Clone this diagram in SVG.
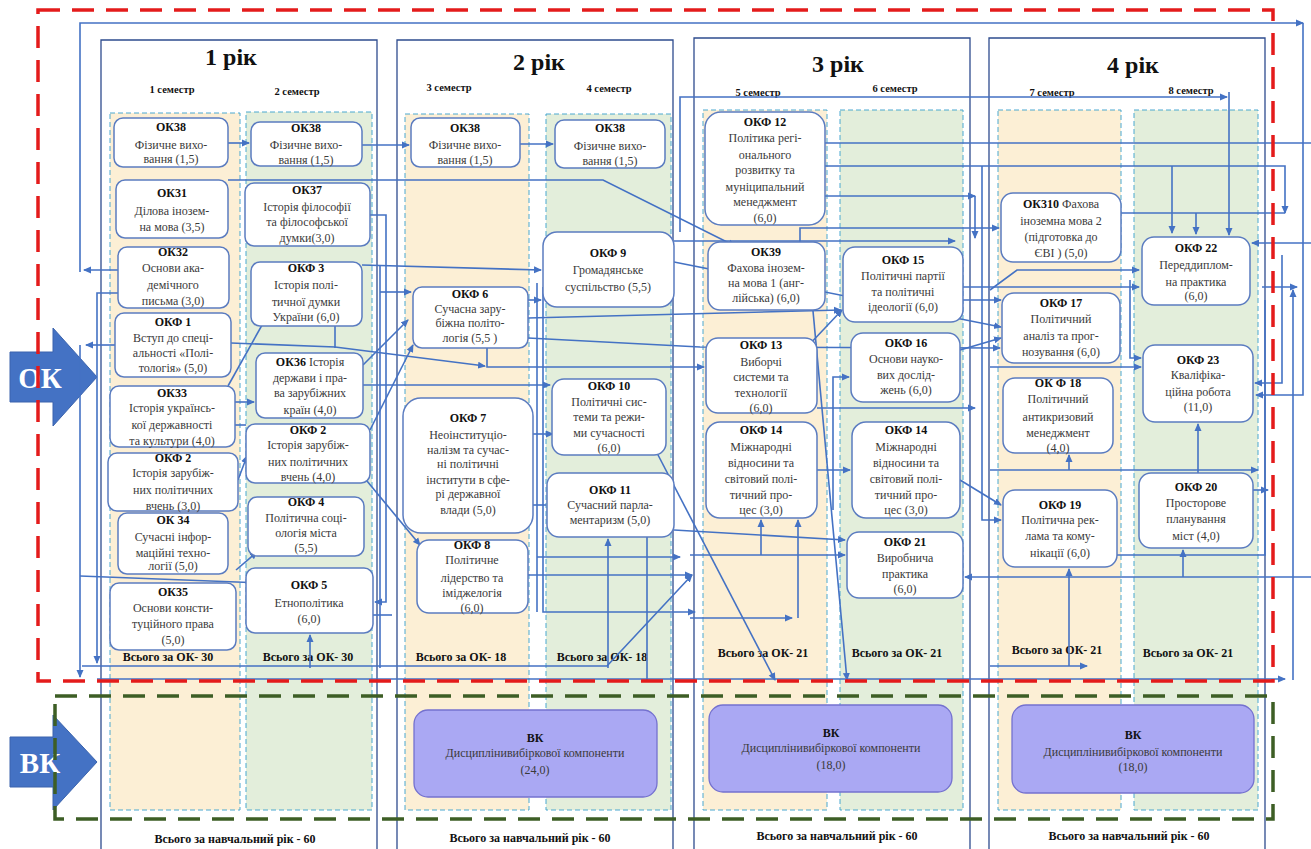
<svg xmlns="http://www.w3.org/2000/svg" width="1311" height="849" viewBox="0 0 1311 849">
<defs>
<marker id="a" markerUnits="userSpaceOnUse" markerWidth="8" markerHeight="8" refX="7" refY="4" orient="auto"><path d="M0,0.5L8,4L0,7.5z" fill="#4472c4"/></marker>
<style>
.yr{fill:none;stroke:#2e4c8e;stroke-width:1.3}
.s1{fill:#fcefd5;stroke:#4aa8d0;stroke-width:1;stroke-dasharray:5 3}
.s2{fill:#e3eedb;stroke:#4aa8d0;stroke-width:1;stroke-dasharray:5 3}
.nd rect{fill:#fff;stroke:#5b7cc0;stroke-width:1.5}
.nd text{font-family:"Liberation Serif","Times New Roman",serif;font-size:12px;fill:#3a3a3a;text-anchor:middle}
.b{font-weight:bold;fill:#111}
.vk rect{fill:#aaa8f3;stroke:#7471cf;stroke-width:1.3}
.cn path{fill:none;stroke:#4472c4;stroke-width:1.6;marker-end:url(#a)}
.cn path.na{marker-end:none}
.hd{font-family:"Liberation Serif","Times New Roman",serif;font-weight:bold;fill:#111;text-anchor:middle}
.sem{font-size:10.5px}
.tot{font-size:12px}
.yt{font-size:24px}
.big{font-family:"Liberation Serif","Times New Roman",serif;font-weight:bold;font-size:29px;fill:#fff;text-anchor:middle}
</style>
</defs>
<rect width="1311" height="849" fill="#fff"/>

<g id="columns">
<rect class="s1" x="110" y="113" width="130" height="697"/>
<rect class="s2" x="246" y="112" width="126" height="698"/>
<rect class="s1" x="405" y="114" width="124" height="696"/>
<rect class="s2" x="546" y="114" width="125" height="696"/>
<rect class="s1" x="703" y="110" width="124" height="700"/>
<rect class="s2" x="840" y="110" width="123" height="700"/>
<rect class="s1" x="998" y="110" width="123" height="700"/>
<rect class="s2" x="1134" y="110" width="124" height="700"/>
</g>

<g id="years">
<path class="yr" d="M101,849V40H377V849"/>
<path class="yr" d="M397,849V40H673V849"/>
<path class="yr" d="M694,849V38H970V849"/>
<path class="yr" d="M989,849V38H1265V849"/>
<text class="hd yt" x="231" y="65">1 рік</text>
<text class="hd yt" x="539" y="70">2 рік</text>
<text class="hd yt" x="838" y="72">3 рік</text>
<text class="hd yt" x="1133" y="73">4 рік</text>
<text class="hd sem" x="172" y="93">1 семестр</text>
<text class="hd sem" x="297" y="95">2 семестр</text>
<text class="hd sem" x="449" y="91">3 семестр</text>
<text class="hd sem" x="609" y="92">4 семестр</text>
<text class="hd sem" x="758" y="96">5 семестр</text>
<text class="hd sem" x="895" y="92">6 семестр</text>
<text class="hd sem" x="1052" y="96">7 семестр</text>
<text class="hd sem" x="1191" y="94">8 семестр</text>
<text class="hd tot" x="168" y="661">Всього за ОК- 30</text>
<text class="hd tot" x="308" y="661">Всього за ОК- 30</text>
<text class="hd tot" x="461" y="661">Всього за ОК- 18</text>
<text class="hd tot" x="602" y="661">Всього за ОК- 18</text>
<text class="hd tot" x="763" y="657">Всього за ОК- 21</text>
<text class="hd tot" x="897" y="657">Всього за ОК- 21</text>
<text class="hd tot" x="1057" y="654">Всього за ОК- 21</text>
<text class="hd tot" x="1188" y="657">Всього за ОК- 21</text>
<text class="hd tot" x="235" y="843">Всього за навчальний рік - 60</text>
<text class="hd tot" x="530" y="842">Всього за навчальний рік - 60</text>
<text class="hd tot" x="837" y="840">Всього за навчальний рік - 60</text>
<text class="hd tot" x="1129" y="840">Всього за навчальний рік - 60</text>
</g>

<g id="ok-arrow">
<polygon points="10,352 53,352 53,328 97,377 53,426 53,402 10,402" fill="#4472c4" stroke="#3a63ad"/>
<text class="big" x="40" y="388">ОК</text>
</g>
<g id="vk-arrow">
<polygon points="10,737 53,737 53,715 97,762 53,810 53,787 10,787" fill="#4472c4" stroke="#3a63ad"/>
<text class="big" x="40" y="773">ВК</text>
</g>

<g id="connectors" class="cn">
<path d="M228,143H249"/>
<path d="M362,145H409"/>
<path d="M519,144H553"/>
<path d="M228,180H603L735,246"/>
<path d="M118,270H84"/>
<path d="M80,272V23H1303"/>
<path d="M1303,23V395H1256"/>
<path d="M370,215H386V602H375"/>
<path d="M362,265L541,270"/>
<path d="M115,345H86"/>
<path d="M231,343L335,347L485,366"/>
<path class="na" d="M335,326V348"/>
<path d="M487,348V367H704"/>
<path d="M235,402H254"/>
<path d="M228,386L266,318"/>
<path class="na" d="M235,425H246"/>
<path d="M238,480L247,456"/>
<path d="M362,475L420,545"/>
<path d="M236,570L257,552"/>
<path d="M80,576L263,583"/>
<path d="M310,668V635"/>
<path d="M80,345V677"/>
<path d="M118,293H97V663"/>
<path d="M82,666H607L692,575"/>
<path d="M97,679H1285"/>
<path class="na" d="M380,265V668"/>
<path d="M380,292H411"/>
<path class="na" d="M373,615H392"/>
<path d="M363,365L408,320"/>
<path d="M370,430L413,345"/>
<path d="M363,385H550"/>
<path d="M533,434H553"/>
<path class="na" d="M528,505H546"/>
<path d="M528,300H541"/>
<path d="M528,318L841,310"/>
<path d="M528,338L700,347L1000,348"/>
<path class="na" d="M537,283V612"/>
<path d="M543,287V612H695"/>
<path d="M528,575H692"/>
<path d="M537,557H680"/>
<path d="M608,668V539"/>
<path class="na" d="M647,537V681"/>
<path d="M657,453L775,680"/>
<path d="M674,241H955"/>
<path d="M680,232V97H1227"/>
<path d="M1229,92V235"/>
<path class="na" d="M825,143H1311"/>
<path d="M825,166H1285V213"/>
<path d="M1172,166V233"/>
<path d="M825,196H975"/>
<path d="M975,196V238"/>
<path d="M982,166V520H1001"/>
<path d="M800,242V228H999"/>
<path d="M674,262L1001,327"/>
<path d="M807,347L842,310"/>
<path d="M817,408H975"/>
<path d="M817,470H850"/>
<path d="M761,555V520"/>
<path d="M690,618H792"/>
<path d="M798,618V520"/>
<path d="M690,555H845"/>
<path d="M674,530L845,540"/>
<path d="M812,300L847,680"/>
<path d="M833,510V377H849"/>
<path d="M963,300H1001"/>
<path d="M960,350L1001,338"/>
<path d="M960,480L1001,505"/>
<path class="na" d="M1121,213H1285"/>
<path d="M1196,213V234"/>
<path d="M963,287H1139"/>
<path d="M990,290L1017,270H1139"/>
<path d="M1130,280V358H1141"/>
<path d="M990,367H1141"/>
<path d="M1311,243H1252"/>
<path d="M1282,255V383H1255"/>
<path d="M1262,287H1297"/>
<path d="M1293,680V290"/>
<path d="M1253,490H1268"/>
<path class="na" d="M1117,555H1265V300"/>
<path d="M990,470H1258"/>
<path d="M1069,470V455"/>
<path d="M1198,473V424"/>
<path d="M1311,577H965"/>
<path d="M1183,577V550"/>
<path d="M990,666H1087"/>
<path d="M1069,666V569"/>
</g>

<g id="frames" fill="none" stroke-width="3.5" stroke-dasharray="22 12">
<rect x="38" y="10" width="1235" height="671" stroke="#e41b1b"/>
<rect x="55" y="696" width="1218" height="123" stroke="#3d5e25"/>
</g>

<g id="n-ok38-1" class="nd"><rect x="114" y="118" width="114" height="49" rx="9"/><text><tspan class="b" x="171" y="131">ОК38</tspan><tspan x="171" y="149">Фізичне вихо-</tspan><tspan x="171" y="163">вання (1,5)</tspan></text></g>
<g id="n-ok31" class="nd"><rect x="116" y="180" width="112" height="58" rx="9"/><text><tspan class="b" x="172" y="197">ОК31</tspan><tspan x="172" y="215">Ділова інозем-</tspan><tspan x="172" y="231">на мова (3,5)</tspan></text></g>
<g id="n-ok32" class="nd"><rect x="118" y="247" width="111" height="61" rx="9"/><text><tspan class="b" x="173" y="256">ОК32</tspan><tspan x="173" y="272">Основи ака-</tspan><tspan x="173" y="289">демічного</tspan><tspan x="173" y="305">письма (3,0)</tspan></text></g>
<g id="n-okf1" class="nd"><rect x="115" y="313" width="116" height="64" rx="9"/><text><tspan class="b" x="173" y="326">ОКФ 1</tspan><tspan x="173" y="342">Вступ до спеці-</tspan><tspan x="173" y="357">альності «Полі-</tspan><tspan x="173" y="372">тологія» (5,0)</tspan></text></g>
<g id="n-ok33" class="nd"><rect x="110" y="386" width="125" height="61" rx="9"/><text><tspan class="b" x="172" y="397">ОК33</tspan><tspan x="172" y="412">Історія українсь-</tspan><tspan x="172" y="429">кої державності</tspan><tspan x="172" y="445">та культури (4,0)</tspan></text></g>
<g id="n-okf2a" class="nd"><rect x="108" y="453" width="130" height="58" rx="9"/><text><tspan class="b" x="173" y="462">ОКФ 2</tspan><tspan x="173" y="477">Історія зарубіж-</tspan><tspan x="173" y="494">них політичних</tspan><tspan x="173" y="510">вчень (3,0)</tspan></text></g>
<g id="n-ok34" class="nd"><rect x="118" y="513" width="110" height="61" rx="9"/><text><tspan class="b" x="173" y="524">ОК 34</tspan><tspan x="173" y="541">Сучасні інфор-</tspan><tspan x="173" y="557">маційні техно-</tspan><tspan x="173" y="570">логії (5,0)</tspan></text></g>
<g id="n-ok35" class="nd"><rect x="110" y="583" width="126" height="67" rx="9"/><text><tspan class="b" x="173" y="596">ОК35</tspan><tspan x="173" y="612">Основи консти-</tspan><tspan x="173" y="628">туційного права</tspan><tspan x="173" y="644">(5,0)</tspan></text></g>

<g id="n-ok38-2" class="nd"><rect x="251" y="122" width="111" height="44" rx="9"/><text><tspan class="b" x="306" y="132">ОК38</tspan><tspan x="306" y="149">Фізичне вихо-</tspan><tspan x="306" y="164">вання (1,5)</tspan></text></g>
<g id="n-ok37" class="nd"><rect x="245" y="183" width="125" height="63" rx="9"/><text><tspan class="b" x="307" y="194">ОК37</tspan><tspan x="307" y="211">Історія філософії</tspan><tspan x="307" y="226">та філософської</tspan><tspan x="307" y="242">думки(3,0)</tspan></text></g>
<g id="n-okf3" class="nd"><rect x="251" y="262" width="111" height="64" rx="9"/><text><tspan class="b" x="306" y="272">ОКФ 3</tspan><tspan x="306" y="289">Історія полі-</tspan><tspan x="306" y="306">тичної думки</tspan><tspan x="306" y="321">України (6,0)</tspan></text></g>
<g id="n-ok36" class="nd"><rect x="256" y="353" width="107" height="65" rx="9"/><text><tspan x="310" y="366"><tspan class="b">ОК36</tspan> Історія</tspan><tspan x="310" y="382">держави і пра-</tspan><tspan x="310" y="397">ва зарубіжних</tspan><tspan x="310" y="414">країн (4,0)</tspan></text></g>
<g id="n-okf2b" class="nd"><rect x="246" y="424" width="124" height="59" rx="9"/><text><tspan class="b" x="308" y="434">ОКФ 2</tspan><tspan x="308" y="449">Історія зарубіж-</tspan><tspan x="308" y="466">них політичних</tspan><tspan x="308" y="481">вчень (4,0)</tspan></text></g>
<g id="n-okf4" class="nd"><rect x="248" y="497" width="116" height="59" rx="9"/><text><tspan class="b" x="306" y="506">ОКФ 4</tspan><tspan x="306" y="522">Політична соці-</tspan><tspan x="306" y="537">ологія міста</tspan><tspan x="306" y="552">(5,5)</tspan></text></g>
<g id="n-okf5" class="nd"><rect x="246" y="568" width="127" height="65" rx="9"/><text><tspan class="b" x="309" y="589">ОКФ 5</tspan><tspan x="309" y="607">Етнополітика</tspan><tspan x="309" y="623">(6,0)</tspan></text></g>

<g id="n-ok38-3" class="nd"><rect x="411" y="118" width="109" height="49" rx="9"/><text><tspan class="b" x="465" y="132">ОК38</tspan><tspan x="465" y="149">Фізичне вихо-</tspan><tspan x="465" y="164">вання (1,5)</tspan></text></g>
<g id="n-okf6" class="nd"><rect x="413" y="287" width="115" height="61" rx="9"/><text><tspan class="b" x="470" y="298">ОКФ 6</tspan><tspan x="470" y="313">Сучасна зару-</tspan><tspan x="470" y="327">біжна політо-</tspan><tspan x="470" y="342">логія (5,5 )</tspan></text></g>
<g id="n-okf7" class="nd"><rect x="403" y="398" width="130" height="135" rx="18"/><text><tspan class="b" x="468" y="422">ОКФ 7</tspan><tspan x="468" y="439">Неоінституціо-</tspan><tspan x="468" y="454">налізм та сучас-</tspan><tspan x="468" y="468">ні політичні</tspan><tspan x="468" y="484">інститути в сфе-</tspan><tspan x="468" y="498">рі державної</tspan><tspan x="468" y="514">влади (5,0)</tspan></text></g>
<g id="n-okf8" class="nd"><rect x="417" y="540" width="111" height="73" rx="12"/><text><tspan class="b" x="472" y="549">ОКФ 8</tspan><tspan x="472" y="564">Політичне</tspan><tspan x="472" y="582">лідерство та</tspan><tspan x="472" y="597">іміджелогія</tspan><tspan x="472" y="612">(6,0)</tspan></text></g>

<g id="n-ok38-4" class="nd"><rect x="555" y="120" width="110" height="48" rx="9"/><text><tspan class="b" x="610" y="132">ОК38</tspan><tspan x="610" y="150">Фізичне вихо-</tspan><tspan x="610" y="165">вання (1,5)</tspan></text></g>
<g id="n-okf9" class="nd"><rect x="543" y="232" width="131" height="75" rx="14"/><text><tspan class="b" x="608" y="257">ОКФ 9</tspan><tspan x="608" y="274">Громадянське</tspan><tspan x="608" y="291">суспільство (5,5)</tspan></text></g>
<g id="n-okf10" class="nd"><rect x="552" y="379" width="114" height="76" rx="12"/><text><tspan class="b" x="609" y="390">ОКФ 10</tspan><tspan x="609" y="406">Політичні сис-</tspan><tspan x="609" y="421">теми та режи-</tspan><tspan x="609" y="437">ми сучасності</tspan><tspan x="609" y="452">(6,0)</tspan></text></g>
<g id="n-okf11" class="nd"><rect x="547" y="473" width="127" height="64" rx="12"/><text><tspan class="b" x="610" y="494">ОКФ 11</tspan><tspan x="610" y="509">Сучасний парла-</tspan><tspan x="610" y="524">ментаризм (5,0)</tspan></text></g>

<g id="n-okf12" class="nd"><rect x="705" y="112" width="120" height="113" rx="16"/><text><tspan class="b" x="765" y="126">ОКФ 12</tspan><tspan x="765" y="142">Політика регі-</tspan><tspan x="765" y="159">онального</tspan><tspan x="765" y="174">розвитку та</tspan><tspan x="765" y="191">муніципальний</tspan><tspan x="765" y="206">менеджмент</tspan><tspan x="765" y="222">(6,0)</tspan></text></g>
<g id="n-ok39" class="nd"><rect x="708" y="242" width="117" height="68" rx="12"/><text><tspan class="b" x="766" y="256">ОК39</tspan><tspan x="766" y="272">Фахова інозем-</tspan><tspan x="766" y="287">на мова 1 (анг-</tspan><tspan x="766" y="302">лійська) (6,0)</tspan></text></g>
<g id="n-okf13" class="nd"><rect x="706" y="338" width="111" height="75" rx="12"/><text><tspan class="b" x="761" y="349">ОКФ 13</tspan><tspan x="761" y="366">Виборчі</tspan><tspan x="761" y="381">системи та</tspan><tspan x="761" y="397">технології</tspan><tspan x="761" y="412">(6,0)</tspan></text></g>
<g id="n-okf14a" class="nd"><rect x="706" y="422" width="111" height="96" rx="14"/><text><tspan class="b" x="761" y="434">ОКФ 14</tspan><tspan x="761" y="451">Міжнародні</tspan><tspan x="761" y="467">відносини та</tspan><tspan x="761" y="483">світовий полі-</tspan><tspan x="761" y="499">тичний про-</tspan><tspan x="761" y="514">цес (3,0)</tspan></text></g>

<g id="n-okf15" class="nd"><rect x="843" y="247" width="120" height="75" rx="12"/><text><tspan class="b" x="903" y="264">ОКФ 15</tspan><tspan x="903" y="280">Політичні партії</tspan><tspan x="903" y="296">та політичні</tspan><tspan x="903" y="311">ідеології (6,0)</tspan></text></g>
<g id="n-okf16" class="nd"><rect x="851" y="333" width="109" height="69" rx="12"/><text><tspan class="b" x="906" y="347">ОКФ 16</tspan><tspan x="906" y="363">Основи науко-</tspan><tspan x="906" y="379">вих дослід-</tspan><tspan x="906" y="394">жень (6,0)</tspan></text></g>
<g id="n-okf14b" class="nd"><rect x="852" y="422" width="108" height="96" rx="14"/><text><tspan class="b" x="906" y="434">ОКФ 14</tspan><tspan x="906" y="451">Міжнародні</tspan><tspan x="906" y="467">відносини та</tspan><tspan x="906" y="483">світовий полі-</tspan><tspan x="906" y="499">тичний про-</tspan><tspan x="906" y="514">цес (3,0)</tspan></text></g>
<g id="n-okf21" class="nd"><rect x="847" y="532" width="116" height="66" rx="12"/><text><tspan class="b" x="905" y="546">ОКФ 21</tspan><tspan x="905" y="562">Виробнича</tspan><tspan x="905" y="578">практика</tspan><tspan x="905" y="593">(6,0)</tspan></text></g>

<g id="n-ok310" class="nd"><rect x="1001" y="193" width="120" height="69" rx="12"/><text><tspan x="1061" y="208"><tspan class="b">ОК310</tspan> Фахова</tspan><tspan x="1061" y="225">іноземна мова 2</tspan><tspan x="1061" y="241">(підготовка до</tspan><tspan x="1061" y="257">ЄВІ ) (5,0)</tspan></text></g>
<g id="n-okf17" class="nd"><rect x="1002" y="293" width="118" height="70" rx="12"/><text><tspan class="b" x="1061" y="307">ОКФ 17</tspan><tspan x="1061" y="323">Політичний</tspan><tspan x="1061" y="340">аналіз та прог-</tspan><tspan x="1061" y="356">нозування (6,0)</tspan></text></g>
<g id="n-okf18" class="nd"><rect x="1003" y="378" width="110" height="75" rx="12"/><text><tspan class="b" x="1058" y="387">ОК Ф 18</tspan><tspan x="1058" y="403">Політичний</tspan><tspan x="1058" y="421">антикризовий</tspan><tspan x="1058" y="437">менеджмент</tspan><tspan x="1058" y="452">(4,0)</tspan></text></g>
<g id="n-okf19" class="nd"><rect x="1003" y="490" width="114" height="77" rx="12"/><text><tspan class="b" x="1060" y="509">ОКФ 19</tspan><tspan x="1060" y="524">Політична рек-</tspan><tspan x="1060" y="540">лама та кому-</tspan><tspan x="1060" y="557">нікації (6,0)</tspan></text></g>

<g id="n-okf22" class="nd"><rect x="1142" y="237" width="108" height="68" rx="12"/><text><tspan class="b" x="1196" y="252">ОКФ 22</tspan><tspan x="1196" y="269">Переддиплом-</tspan><tspan x="1196" y="286">на практика</tspan><tspan x="1196" y="300">(6,0)</tspan></text></g>
<g id="n-okf23" class="nd"><rect x="1143" y="345" width="110" height="77" rx="12"/><text><tspan class="b" x="1198" y="364">ОКФ 23</tspan><tspan x="1198" y="379">Кваліфіка-</tspan><tspan x="1198" y="396">ційна робота</tspan><tspan x="1198" y="411">(11,0)</tspan></text></g>
<g id="n-okf20" class="nd"><rect x="1139" y="473" width="114" height="75" rx="12"/><text><tspan class="b" x="1196" y="491">ОКФ 20</tspan><tspan x="1196" y="507">Просторове</tspan><tspan x="1196" y="523">планування</tspan><tspan x="1196" y="540">міст (4,0)</tspan></text></g>

<g id="n-vk2" class="nd vk"><rect x="414" y="710" width="243" height="87" rx="14"/><text><tspan class="b" x="535" y="742">ВК</tspan><tspan x="535" y="757">Дисциплінивибіркової компоненти</tspan><tspan x="535" y="774">(24,0)</tspan></text></g>
<g id="n-vk3" class="nd vk"><rect x="709" y="705" width="243" height="87" rx="14"/><text><tspan class="b" x="831" y="737">ВК</tspan><tspan x="831" y="752">Дисциплінивибіркової компоненти</tspan><tspan x="831" y="769">(18,0)</tspan></text></g>
<g id="n-vk4" class="nd vk"><rect x="1012" y="705" width="242" height="88" rx="14"/><text><tspan class="b" x="1133" y="739">ВК</tspan><tspan x="1133" y="756">Дисциплінивибіркової компоненти</tspan><tspan x="1133" y="771">(18,0)</tspan></text></g>
</svg>
